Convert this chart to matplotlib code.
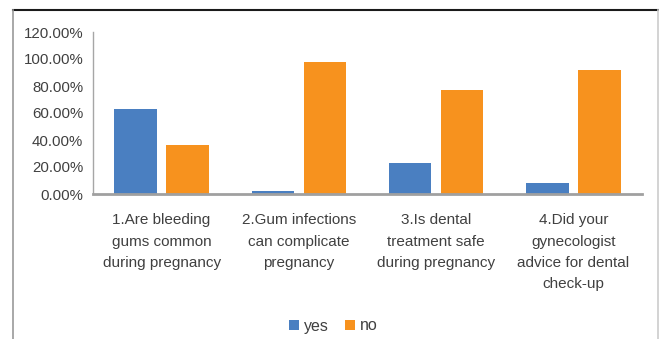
import matplotlib.pyplot as plt
import numpy as np
from matplotlib.lines import Line2D
from matplotlib.ticker import FuncFormatter

plt.rcParams['font.family'] = ['Liberation Sans', 'DejaVu Sans']

categories = [
    "1.Are bleeding\ngums common\nduring pregnancy",
    "2.Gum infections\ncan complicate\npregnancy",
    "3.Is dental\ntreatment safe\nduring pregnancy",
    "4.Did your\ngynecologist\nadvice for dental\ncheck-up",
]
yes_vals = [63, 2, 23, 8]
no_vals = [36, 98, 77, 92]

blue = "#4A7FC1"
orange = "#F7921E"

fig = plt.figure(figsize=(6.59, 3.39), dpi=100)
W, H = 659, 339
ax = fig.add_axes([93 / W, 1 - 194 / H, (642 - 93) / W, (194 - 32) / H])

x = np.arange(len(categories))
w = 0.31
ax.bar(x - 0.19, yes_vals, w, color=blue, label="yes")
ax.bar(x + 0.19, no_vals, w, color=orange, label="no")

ax.set_xlim(-0.5, len(categories) - 0.5)
ax.set_ylim(0, 120)
ax.set_yticks(np.arange(0, 121, 20))
ax.yaxis.set_major_formatter(FuncFormatter(lambda v, p: f"{v:.2f}%"))
ax.set_xticks(x)
ax.set_xticklabels(categories, linespacing=1.66, va="top")
ax.tick_params(axis="both", length=0, labelcolor="#404040")
ax.tick_params(axis="x", pad=14, labelsize=11)
ax.tick_params(axis="y", pad=7, labelsize=10.8)

for s in ["top", "right"]:
    ax.spines[s].set_visible(False)
ax.spines["left"].set_color("#A6A6A6")
ax.spines["left"].set_linewidth(1.0)
ax.spines["bottom"].set_color("#A0A0A0")
ax.spines["bottom"].set_linewidth(2.0)

# outer chart frame
fig.add_artist(Line2D([13 / W, 1], [1 - 10 / H, 1 - 10 / H], color="#1A1A1A", lw=1.5))
fig.add_artist(Line2D([13 / W, 13 / W], [0, 1 - 10 / H], color="#999999", lw=1.2))
fig.add_artist(Line2D([657.5 / W, 657.5 / W], [0, 1 - 10 / H], color="#CCCCCC", lw=1.2))

fig.legend(loc="center", bbox_to_anchor=(333 / W, 1 - 326 / H), ncol=2, frameon=False,
           fontsize=11.5, handlelength=0.65, handleheight=0.65, handletextpad=0.3,
           columnspacing=1.0, labelcolor="#404040")

fig.savefig("out.png", dpi=100)
